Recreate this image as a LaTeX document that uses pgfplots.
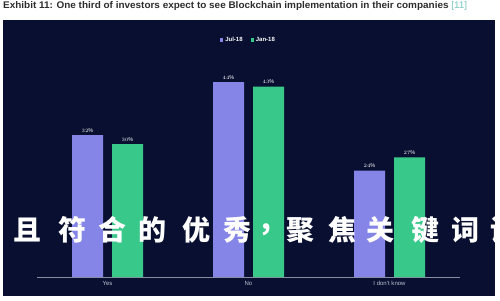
\documentclass[border=0pt]{standalone}
\usepackage{pgfplots}
\pgfplotsset{compat=1.18}
\usepackage{fontspec}
\setmainfont{Liberation Sans}
\newfontfamily\cjk{Noto Sans CJK SC}
\definecolor{panel}{RGB}{9,15,48}
\definecolor{jul}{RGB}{133,133,232}
\definecolor{jan}{RGB}{56,201,138}
\definecolor{ticktext}{RGB}{190,195,210}
\definecolor{titletext}{RGB}{45,45,45}
\definecolor{refnote}{RGB}{120,200,190}
\begin{document}
\begin{tikzpicture}
\useasboundingbox (0,0) rectangle (500pt,300pt);
\fill[white] (0,0) rectangle (500pt,300pt);
\fill[panel] (3pt,4pt) rectangle (495pt,280pt);
% heading above the panel
\node[anchor=west,inner sep=0pt,text=titletext] at (3pt,294pt)
  {\resizebox{464pt}{7pt}{\bfseries Exhibit 11: One third of investors expect to see Blockchain implementation in their companies \textcolor{refnote}{\mdseries[11]}}};
\begin{axis}[
  at={(37pt,23pt)}, anchor=south west,
  scale only axis, width=423pt, height=221.5pt,
  xmin=-0.5, xmax=2.5, ymin=0, ymax=50,
  ybar=9pt, bar width=31pt,
  axis y line=none,
  axis x line*=bottom,
  x axis line style={draw=ticktext!70!panel, line width=0.6pt, -},
  xtick={0,1,2},
  xticklabels={Yes,No,I don't know},
  major tick length=0pt,
  xticklabel style={text=ticktext, font=\fontsize{6}{7}\selectfont, yshift=-0.5pt},
  nodes near coords={\pgfmathprintnumber{\pgfplotspointmeta}\%},
  nodes near coords style={text=white, font=\fontsize{5.5}{6}\selectfont, yshift=-0.5pt},
  legend columns=2,
  legend style={at={(0.5,1.07)}, anchor=center, draw=none, fill=none,
    text=white, font=\bfseries\fontsize{6}{7}\selectfont,
    /tikz/every even column/.append style={column sep=6pt}},
  legend image code/.code={\fill[#1] (0pt,-1.6pt) rectangle (3.2pt,1.6pt);},
]
\addplot[fill=jul, draw=none] coordinates {(0,32) (1,44) (2,24)};
\addplot[fill=jan, draw=none] coordinates {(0,30) (1,43) (2,27)};
\legend{Jul-18,Jan-18}
\end{axis}
% overlaid caption line
\begin{scope}
\clip (0,0) rectangle (500pt,300pt);
\foreach \x/\c in {-10/并,27.5/且,72.5/符,112.5/合,152.5/的,196.5/优,237.5/秀,266/{,},300/聚,342.5/焦,380/关,425/键,465/词,504/语}
  \node[text=white, font=\cjk\bfseries\fontsize{28}{30}\selectfont, inner sep=0pt] at (\x pt,70pt) {\c};
\end{scope}
\end{tikzpicture}
\end{document}
